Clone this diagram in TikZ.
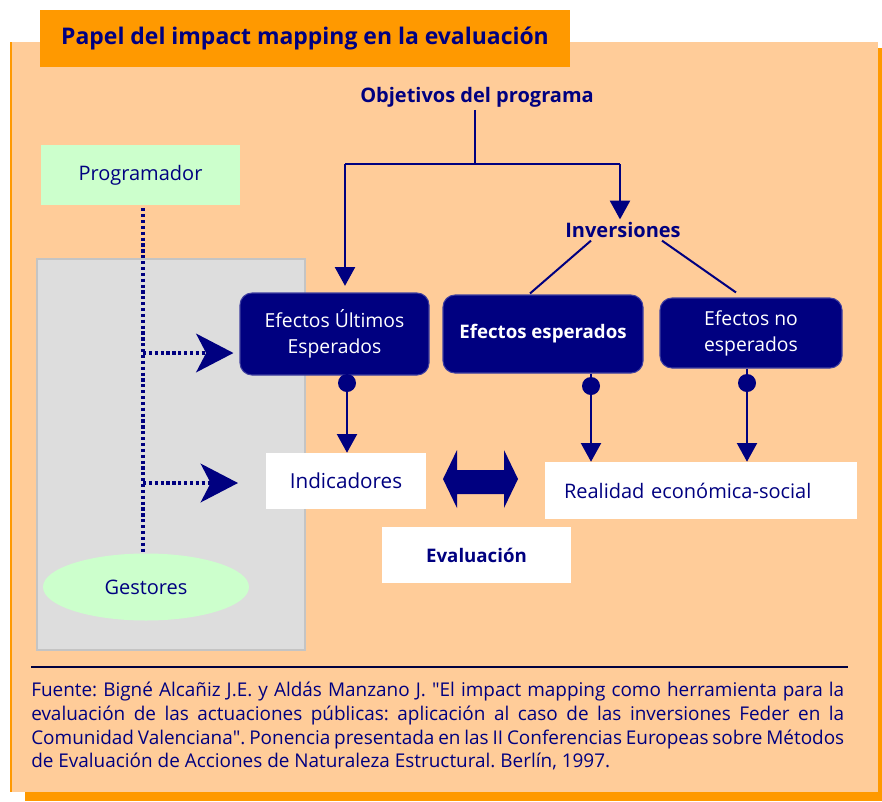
\documentclass[tikz,border=0pt]{standalone}
\usepackage{fontspec}
\setmainfont{Open Sans}
\usetikzlibrary{arrows.meta,shapes.geometric,calc}
\definecolor{navy}{HTML}{000080}
\definecolor{peach}{HTML}{FFCC99}
\definecolor{orng}{HTML}{FF9900}
\definecolor{mint}{HTML}{CCFFCC}
\definecolor{panelgray}{HTML}{DDDDDD}
\definecolor{panelrule}{HTML}{C4C4C4}
\frenchspacing

\begin{document}
\begin{tikzpicture}[x=0.75pt,y=-0.75pt,
  every node/.style={inner sep=0pt, text=navy, font=\fontsize{15}{18}\selectfont},
  boldtext/.style={font=\fontsize{15}{18}\selectfont\bfseries, inner sep=2pt},
  navybox/.style={fill=navy, draw=navy!75!white, line width=0.8pt, rounded corners=9pt,
    text=white, align=center, font=\fontsize{14.5}{19.5}\selectfont},
  whitebox/.style={fill=white, minimum height=42pt},
  conn/.style={draw=navy, line width=1.5pt},
  arr/.style={conn, -{Triangle[length=14pt,width=15pt]}},
  dotl/.style={draw=navy, line width=2.4pt, dash pattern=on 2.4pt off 2pt},
  dotarr/.style={dotl, -{Stealth[length=28pt,width=29pt,inset=7.5pt]}},
  knob/.style={circle, fill=navy, minimum size=13.5pt}
]
\useasboundingbox (0,0) rectangle (882,801);

% frame: shadow, panel and its left edge
\fill[orng] (25,48) rectangle (882,801);
\fill[peach] (10,42) rectangle (878,792);
\draw[orng, line width=1.5pt] (11,42) -- (11,792);

% title tab
\node[fill=orng, minimum width=397.5pt, minimum height=42.75pt,
  font=\fontsize{17.2}{20}\selectfont\bfseries] (title) at (305,38.5)
  {Papel del impact mapping en la evaluación};

% grey area of the managers
\draw[fill=panelgray, draw=panelrule, line width=1.2pt] (37,259) rectangle (305,650);

% actors
\node[fill=mint, minimum width=149.25pt, minimum height=45pt] (prog) at (140.5,175) {Programador};
\node[ellipse, fill=mint, minimum width=154.5pt, minimum height=50.25pt] (gest) at (146,587) {Gestores};

% programme tree
\node[boldtext] (obj) at (477,97) {Objetivos del programa};
\node[boldtext] (inv) at (623,230) {Inversiones};

\node[navybox, minimum width=141.75pt, minimum height=61.5pt] (eue) at (334.5,334)
  {Efectos Últimos\\Esperados};
\node[navybox, minimum width=150pt, minimum height=58.5pt, font=\fontsize{14}{17}\selectfont\bfseries] (ee) at (543,334)
  {Efectos esperados};
\node[navybox, minimum width=136.5pt, minimum height=52.5pt] (ene) at (751,333)
  {Efectos no\\esperados};

\node[knob] (k1) at (347,383) {};
\node[knob] (k2) at (591,386) {};
\node[knob] (k3) at (747,383) {};

% measurement boxes
\node[whitebox, minimum width=120pt, font=\fontsize{15.5}{18}\selectfont] (ind) at (346,481) {Indicadores};
\node[whitebox, minimum height=42.75pt, text width=205.5pt, inner xsep=14.25pt, align=left] (real) at (701,490.5)
  {Realidad económica-social};
\node[whitebox, minimum width=141.75pt, font=\fontsize{14}{17}\selectfont\bfseries] (eval) at (476.5,555) {Evaluación};

% two-way arrow between indicators and reality
\fill[navy] (443,479) -- (457,450) -- (457,470) -- (504,470) -- (504,450) -- (518,479)
  -- (504,508) -- (504,494) -- (457,494) -- (457,508) -- cycle;

% objectives split
\coordinate (jn) at (474.5,164);
\coordinate (ja) at (345,164);
\coordinate (jb) at (620,164);
\draw[conn] (obj.south -| jn) -- (jn);
\draw[conn] (ja) -- (jb);
\draw[arr, shorten >=5pt] (ja) -- (ja |- eue.north);
\draw[arr] (jb) -- (jb |- inv.north);

% investments split
\draw[conn] ($(inv.south)+(-32,0)$) -- ($(ee.north)+(-13,-1)$);
\draw[conn] ($(inv.south)+(39,0)$) -- ($(ene.north)+(-15,-5)$);

% effects to indicators / reality
\draw[conn] (eue.south -| k1) -- (k1);
\draw[conn] (ee.south -| k2) -- (k2);
\draw[conn] (ene.south -| k3) -- (k3);
\draw[arr] (k1) -- (k1 |- ind.north);
\draw[arr] (k2) -- (k2 |- real.north);
\draw[arr] (k3) -- (k3 |- real.north);

% dotted links of programmer and managers
\coordinate (vx) at (143,0);
\coordinate (h1) at (143,353);
\coordinate (h2) at (143,483);
\coordinate (t2) at (238,483);
\draw[dotl] ($(prog.south -| vx)+(0,3)$) -- (gest.north -| vx);
\draw[dotarr, shorten >=4.5pt] (h1) -- (h1 -| eue.west);
\draw[dotarr] (h2) -- (t2);

% source note
\draw[navy!50!black, line width=1.2pt] (31,667) -- (848,667);
\node[anchor=north west, text width=609.75pt, align=justify, font=\fontsize{14.2}{17.9}\selectfont] (src) at (31,681.5)
  {Fuente: Bigné Alcañiz J.E. y Aldás Manzano J. \textquotedbl El impact mapping como herramienta para la\linebreak
   evaluación de las actuaciones públicas: aplicación al caso de las inversiones Feder en la\linebreak
   Comunidad Valenciana\textquotedbl. Ponencia presentada en las II Conferencias Europeas sobre Métodos\linebreak
   de Evaluación de Acciones de Naturaleza Estructural. Berlín, 1997.};
\end{tikzpicture}
\end{document}
